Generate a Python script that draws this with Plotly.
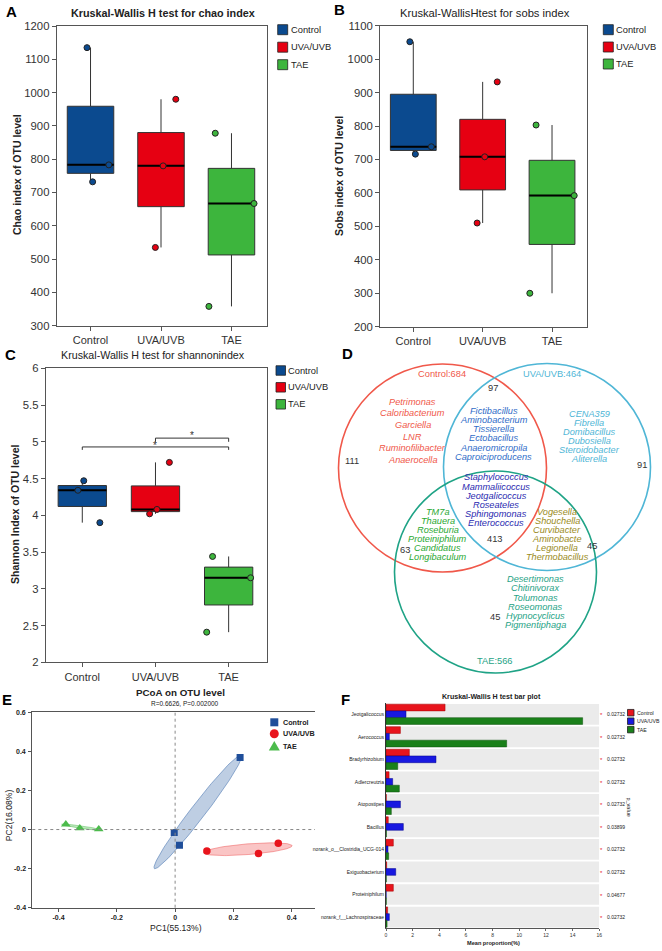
import numpy as np
import plotly.graph_objects as go

W, H = 662, 951
FONT = "Liberation Sans"

# ------------------------------------------------------------------ data
groups = ["Control", "UVA/UVB", "TAE"]
chao_values = [[1135, 783, 732], [980, 780, 535], [878, 667, 358]]
sobs_values = [[1052, 738, 716], [932, 708, 510], [803, 592, 300]]
shannon_values = [[4.47, 4.34, 3.90], [4.72, 4.08, 4.02], [3.44, 3.15, 2.41]]
chao_ticks = [300, 400, 500, 600, 700, 800, 900, 1000, 1100, 1200]
sobs_ticks = [200, 300, 400, 500, 600, 700, 800, 900, 1000, 1100]
shannon_ticks = [2, 2.5, 3, 3.5, 4, 4.5, 5, 5.5, 6]
shannon_ticktext = ["2", "2.5", "3", "3.5", "4", "4.5", "5", "5.5", "6"]

venn_sets = ["Control:684", "UVA/UVB:464", "TAE:566"]
venn_counts = ["111", "97", "91", "413", "63", "45", "45"]
venn_control_only = ["Petrimonas", "Caloribacterium", "Garciella", "LNR", "Ruminofilibacter", "Anaerocella"]
venn_control_uv = ["Fictibacillus", "Aminobacterium", "Tissierella", "Ectobacillus", "Anaeromicropila", "Caproiciproducens"]
venn_uv_only = ["CENA359", "Fibrella", "Domibacillus", "Dubosiella", "Steroidobacter", "Aliterella"]
venn_core = ["Staphylococcus", "Mammaliicoccus", "Jeotgalicoccus", "Roseateles", "Sphingomonas", "Enterococcus"]
venn_control_tae = ["TM7a", "Thauera", "Roseburia", "Proteiniphilum", "Candidatus", "Longibaculum"]
venn_uv_tae = ["Vogesella", "Shouchella", "Curvibacter", "Aminobacte", "Legionella", "Thermobacillus"]
venn_tae_only = ["Desertimonas", "Chitinivorax", "Tolumonas", "Roseomonas", "Hypnocyclicus", "Pigmentiphaga"]

pc1_control = [0.223, -0.003, 0.015]
pc2_control = [0.369, -0.015, -0.081]
pc1_uv = [0.109, 0.286, 0.354]
pc2_uv = [-0.110, -0.122, -0.070]
pc1_tae = [-0.375, -0.327, -0.262]
pc2_tae = [0.027, 0.007, 0.002]
pcoa_xticks = [-0.4, -0.2, 0, 0.2, 0.4]
pcoa_xticktext = ["-0.4", "-0.2", "0", "0.2", "0.4"]
pcoa_yticks = [-0.4, -0.2, 0, 0.2, 0.4, 0.6]
pcoa_yticktext = ["-0.4", "-0.2", "0", "0.2", "0.4", "0.6"]

genera = ["Jeotgalicoccus", "Aerococcus", "Bradyrhizobium", "Adlercreutzia", "Atopostipes",
          "Bacillus", "norank_o__Clostridia_UCG-014", "Exiguobacterium", "Proteiniphilum",
          "norank_f__Lachnospiraceae"]
bar_control = [4.43, 1.08, 1.75, 0.23, 0.02, 0.17, 0.55, 0.05, 0.55, 0.12]
bar_uv = [1.50, 0.25, 3.75, 0.50, 1.08, 1.30, 0.15, 0.73, 0.01, 0.25]
bar_tae = [14.75, 9.05, 0.88, 1.00, 0.40, 0.03, 0.20, 0.02, 0.02, 0.08]
p_values = ["0.02732", "0.02732", "0.02732", "0.02732", "0.02732",
            "0.03899", "0.02732", "0.02732", "0.04677", "0.02732"]
bar_xticks = [0, 2, 4, 6, 8, 10, 12, 14, 16]

# ------------------------------------------------------------------ style
box_colors = ["#0b4a8f", "#e60012", "#3db53d"]
pcoa_colors = ["#1f4e9a", "#e8141c", "#4cbb4c"]
bar_colors = ["#e8141c", "#1818e0", "#1a801a"]
bar_edges = ["#a00000", "#00008a", "#0d500d"]
jit_ab = [[-0.05, 0.26, 0.03], [0.21, 0.03, -0.08], [-0.23, 0.32, -0.32]]
jit_c = [[0.02, -0.06, 0.24], [0.19, 0.02, -0.08], [-0.22, 0.30, -0.30]]


def X(p):
    return p / W


def Y(p):
    return 1 - p / H


def dx(a, b):
    return [X(a), X(b)]


def dy(top, bottom):
    return [Y(bottom), Y(top)]


def fnt(size, bold=False, color="#222", italic=False):
    d = dict(family=FONT, size=size, color=color)
    if bold:
        d["weight"] = "bold"
    if italic:
        d["style"] = "italic"
    return d


fig = go.Figure()
shapes, annos = [], []
layout_axes = {}


def ann(x, y, text, size, bold=False, color="#222", xanchor="center", italic=False,
        angle=0, xref="paper", yref="paper", yshift=0):
    annos.append(dict(x=x, y=y, text=text, showarrow=False, xref=xref, yref=yref,
                      xanchor=xanchor, yanchor="middle", textangle=angle, yshift=yshift,
                      font=fnt(size, bold, color, italic)))


def ref(k):
    return ("x", "y") if k == 1 else (f"x{k}", f"y{k}")


def axkey(k):
    return ("xaxis", "yaxis") if k == 1 else (f"xaxis{k}", f"yaxis{k}")


# ------------------------------------------------------------------ box panels
def box_panel(k, values, jit, xdom, ydom, xrange, yrange, yticks, yticktext):
    xr, yr = ref(k)
    for i, vals in enumerate(values):
        fig.add_trace(go.Box(x=[i] * len(vals), y=vals, width=0.66, fillcolor=box_colors[i],
                             line=dict(color="#333", width=1), boxpoints=False,
                             quartilemethod="inclusive", whiskerwidth=0, xaxis=xr, yaxis=yr,
                             showlegend=False, hoverinfo="skip"))
        med = float(np.median(vals))
        fig.add_trace(go.Scatter(x=[i - 0.33, i + 0.33], y=[med, med], mode="lines",
                                 line=dict(color="black", width=2), xaxis=xr, yaxis=yr,
                                 showlegend=False, hoverinfo="skip"))
        fig.add_trace(go.Scatter(x=[i + j for j in jit[i]], y=vals, mode="markers",
                                 marker=dict(size=6, color=box_colors[i],
                                             line=dict(color="#222", width=1)),
                                 xaxis=xr, yaxis=yr, showlegend=False, hoverinfo="skip"))
    xk, yk = axkey(k)
    common = dict(showline=True, mirror=True, linecolor="#555", linewidth=1, ticks="outside",
                  ticklen=4, tickcolor="#555", showgrid=False, zeroline=False)
    layout_axes[xk] = dict(domain=xdom, range=xrange, tickvals=[0, 1, 2], ticktext=groups,
                           tickfont=fnt(11, color="#333"), anchor=yr, **common)
    layout_axes[yk] = dict(domain=ydom, range=yrange, tickvals=yticks, ticktext=yticktext,
                           tickfont=fnt(11.3, color="#333"), anchor=xr, **common)


def square_legend(x_left, y_centers, size, fsize, colors, labels, gap=2):
    for c, lab, yc in zip(colors, labels, y_centers):
        shapes.append(dict(type="rect", xref="paper", yref="paper", x0=X(x_left),
                           x1=X(x_left + size), y0=Y(yc + size / 2), y1=Y(yc - size / 2),
                           fillcolor=c, line=dict(color="#222", width=0.8)))
        ann(X(x_left + size + gap), Y(yc), lab, fsize, xanchor="left")


# A
box_panel(1, chao_values, jit_ab, dx(56.7, 266.7), dy(26, 325.7), [-0.48, 2.5], [300, 1200],
          chao_ticks, [str(t) for t in chao_ticks])
ann(X(162.5), Y(13.3), "Kruskal-Wallis H test for chao index", 10.8, bold=True)
ann(X(17), Y(175), "Chao index of OTU level", 10.5, bold=True, angle=-90)
square_legend(277.7, [29.7, 47.2, 64.7], 10, 9.3, box_colors, groups, gap=1)
ann(X(11), Y(11), "A", 15, bold=True, color="black")

# B
box_panel(2, sobs_values, jit_ab, dx(380, 586.7), dy(25.7, 326.7), [-0.48, 2.5], [200, 1100],
          sobs_ticks, [str(t) for t in sobs_ticks])
ann(X(484.5), Y(13.3), "Kruskal-WallisHtest for sobs index", 11.2)
ann(X(339), Y(176), "Sobs index of OTU level", 10.5, bold=True, angle=-90)
square_legend(603.3, [29.7, 47, 64], 10, 9.3, box_colors, groups, gap=1)
ann(X(339), Y(9), "B", 15, bold=True, color="black")

# C
box_panel(3, shannon_values, jit_c, dx(45.7, 266.7), dy(368.3, 662.3), [-0.5, 2.52], [2, 6],
          shannon_ticks, shannon_ticktext)
ann(X(153.3), Y(355), "Kruskal-Wallis H test for shannonindex", 10.7)
ann(X(15), Y(514), "Shannon Index of OTU level", 10.5, bold=True, angle=-90)
square_legend(276, [370.5, 387.3, 404.3], 9.5, 9.3, box_colors, groups, gap=0.5)
ann(X(10), Y(354), "C", 15, bold=True, color="black")
# significance brackets
for xs, ys in [([0, 0, 2, 2], [4.89, 4.93, 4.93, 4.89]), ([1, 1, 2, 2], [5.0, 5.05, 5.05, 5.0])]:
    fig.add_trace(go.Scatter(x=xs, y=ys, mode="lines", line=dict(color="#333", width=1),
                             xaxis="x3", yaxis="y3", showlegend=False, hoverinfo="skip"))
for sx, sy in [(1, 4.99), (1.5, 5.12)]:
    ann(sx, sy, "*", 10, color="#333", xref="x3", yref="y3", yshift=-3)

# ------------------------------------------------------------------ D: Venn
layout_axes["xaxis4"] = dict(domain=dx(330, 662), range=[330, 662], visible=False, anchor="y4")
layout_axes["yaxis4"] = dict(domain=dy(340, 680), range=[680, 340], visible=False, anchor="x4")
venn_circle_colors = ["#f0584a", "#4fb6d6", "#1fa386"]
venn_circles = [(442.5, 468, 104), (547, 467, 103.5), (495.5, 572, 101)]
for (cx, cy, r), c in zip(venn_circles, venn_circle_colors):
    shapes.append(dict(type="circle", xref="x4", yref="y4", x0=cx - r, x1=cx + r,
                       y0=cy - r, y1=cy + r, line=dict(color=c, width=1.6)))
for lab, (x, y), c in zip(venn_sets, [(442, 374), (552, 374), (495, 661)], venn_circle_colors):
    ann(x, y, lab, 9.3, color=c, xref="x4", yref="y4")
count_pos = [(352, 461), (493, 388), (642, 465), (495, 539), (405, 550), (592, 546), (495, 617)]
for lab, (x, y) in zip(venn_counts, count_pos):
    ann(x, y, lab, 9.3, color="#333", xref="x4", yref="y4")
venn_lists = [
    (venn_control_only, 412.8, 401.7, 11.67, "#f0584a"),
    (venn_control_uv, 493.8, 411.0, 9.13, "#2f6cc8"),
    (venn_uv_only, 589.3, 414.0, 9.07, "#4fb6d6"),
    (venn_core, 496.0, 477.3, 9.2, "#2a2ab0"),
    (venn_control_tae, 437.5, 511.7, 9.13, "#2aa832"),
    (venn_uv_tae, 557.0, 512.0, 9.0, "#9a8b1c"),
    (venn_tae_only, 535.0, 579.3, 9.13, "#1fa386"),
]
for names, cx, y0, step, c in venn_lists:
    for j, name in enumerate(names):
        ann(cx, y0 + j * step, name, 9.2, color=c, italic=True, xref="x4", yref="y4")
ann(X(347), Y(353), "D", 15, bold=True, color="black")

# ------------------------------------------------------------------ E: PCoA
def conf_ellipse(xs, ys, k=1.2, n=120):
    pts = np.vstack([xs, ys])
    mu = pts.mean(axis=1)
    vals, vecs = np.linalg.eigh(np.cov(pts))
    t = np.linspace(0, 2 * np.pi, n)
    circ = np.vstack([np.cos(t), np.sin(t)])
    ell = vecs @ (k * np.sqrt(np.maximum(vals, 0))[:, None] * circ) + mu[:, None]
    return ell[0], ell[1]


ell_fill = ["rgba(70,115,175,0.35)", "rgba(240,90,90,0.35)", "rgba(80,190,80,0.35)"]
ell_line = ["rgba(70,115,175,0.55)", "rgba(240,90,90,0.5)", "rgba(80,190,80,0.5)"]
pcoa_sets = [(pc1_control, pc2_control), (pc1_uv, pc2_uv), (pc1_tae, pc2_tae)]
for (px, py), fc, lc in zip(pcoa_sets, ell_fill, ell_line):
    ex, ey = conf_ellipse(px, py)
    fig.add_trace(go.Scatter(x=ex, y=ey, mode="lines", fill="toself", fillcolor=fc,
                             line=dict(color=lc, width=1), xaxis="x5", yaxis="y5",
                             showlegend=False, hoverinfo="skip"))
symbols = ["square", "circle", "triangle-up"]
msizes = [7, 7.5, 8.5]
for (px, py), c, s, ms in zip(pcoa_sets, pcoa_colors, symbols, msizes):
    fig.add_trace(go.Scatter(x=px, y=py, mode="markers",
                             marker=dict(symbol=s, size=ms, color=c, line=dict(width=0)),
                             xaxis="x5", yaxis="y5", showlegend=False, hoverinfo="skip"))
shapes.append(dict(type="line", xref="x5", yref="y5 domain", x0=0, x1=0, y0=0, y1=1,
                   line=dict(color="#888", width=1, dash="dot")))
shapes.append(dict(type="line", xref="x5 domain", yref="y5", x0=0, x1=1, y0=0, y1=0,
                   line=dict(color="#888", width=1, dash="dot")))
ecommon = dict(showline=True, linecolor="#555", linewidth=1, ticks="outside", ticklen=3,
               tickcolor="#555", showgrid=False, zeroline=False, tickfont=fnt(7, True, "#222"))
e_ydom = dy(712.3, 907.7)
e_yrange = [-0.4, 0.6]
layout_axes["xaxis5"] = dict(domain=dx(32.3, 315), range=[-0.49, 0.48], tickvals=pcoa_xticks,
                             ticktext=pcoa_xticktext, mirror=True, anchor="y5", **ecommon)
layout_axes["yaxis5"] = dict(domain=e_ydom, range=e_yrange, tickvals=pcoa_yticks,
                             showticklabels=False, anchor="x5", **ecommon)
# y tick labels of E, placed through the axis' own linear scale (domain/range)
for v, lab in zip(pcoa_yticks, pcoa_yticktext):
    frac = (v - e_yrange[0]) / (e_yrange[1] - e_yrange[0])
    yp = e_ydom[0] + frac * (e_ydom[1] - e_ydom[0])
    ann(X(28), yp, lab, 7, bold=True, xanchor="right")
ann(X(180.8), Y(692.7), "PCoA on OTU level", 9.8, bold=True)
ann(X(185), Y(703.3), "R=0.6626, P=0.002000", 6.5)
ann(X(175.8), Y(928.3), "PC1(55.13%)", 8.6)
ann(X(9.3), Y(815), "PC2(16.08%)", 8.6, angle=-90)
ann(X(7), Y(699), "E", 15, bold=True, color="black")
# legend keys drawn as paper shapes
leg_x, leg_y = 274.3, [722.3, 733.8, 746.0]
s = 4
shapes.append(dict(type="rect", xref="paper", yref="paper", x0=X(leg_x - s), x1=X(leg_x + s),
                   y0=Y(leg_y[0] + s), y1=Y(leg_y[0] - s), fillcolor=pcoa_colors[0],
                   line=dict(width=0)))
r = 4.5
shapes.append(dict(type="circle", xref="paper", yref="paper", x0=X(leg_x - r), x1=X(leg_x + r),
                   y0=Y(leg_y[1] + r), y1=Y(leg_y[1] - r), fillcolor=pcoa_colors[1],
                   line=dict(width=0)))
t = 5.5
tri = (f"M {X(leg_x - t)},{Y(leg_y[2] + 4.5)} L {X(leg_x + t)},{Y(leg_y[2] + 4.5)} "
       f"L {X(leg_x)},{Y(leg_y[2] - 5)} Z")
shapes.append(dict(type="path", xref="paper", yref="paper", path=tri,
                   fillcolor=pcoa_colors[2], line=dict(width=0)))
for lab, yy in zip(groups, leg_y):
    ann(X(280.5), Y(yy), lab, 7.2, bold=True, xanchor="left")

# ------------------------------------------------------------------ F: bar plot
yidx = list(range(len(genera)))
for i in yidx:
    shapes.append(dict(type="rect", xref="x6", yref="y6", x0=0, x1=16, y0=i - 0.46,
                       y1=i + 0.46, fillcolor="#ebebeb", line=dict(width=0), layer="below"))
for vals, c, e, name in zip([bar_control, bar_uv, bar_tae], bar_colors, bar_edges, groups):
    fig.add_trace(go.Bar(y=yidx, x=vals, orientation="h", name=name,
                         marker=dict(color=c, line=dict(color=e, width=0.5)),
                         xaxis="x6", yaxis="y6", showlegend=False, hoverinfo="skip"))
layout_axes["xaxis6"] = dict(domain=dx(386, 599.3), range=[0, 16], tickvals=bar_xticks,
                             ticks="outside", ticklen=2, tickcolor="#666", showline=True,
                             linecolor="#555", linewidth=1, showgrid=False, zeroline=False,
                             tickfont=fnt(5, color="#333"), anchor="y6")
layout_axes["yaxis6"] = dict(domain=dy(703, 928.3), range=[9.5, -0.5], tickvals=yidx,
                             ticktext=genera, showline=True, linecolor="#333", linewidth=1,
                             ticks="", showgrid=False, zeroline=False,
                             tickfont=fnt(5, color="#222"), anchor="x6")
for i, p in zip(yidx, p_values):
    ann(X(601.5), i, "*", 6, color="#e8141c", yref="y6", yshift=-1)
    ann(X(604.5), i, p, 5, color="#222", xanchor="left", yref="y6")
ann(X(628.5), Y(807), "p_value", 5.5, angle=90)
square_legend(627.5, [712.7, 721.2, 729.6], 6.5, 5.2, bar_colors, groups, gap=1)
ann(X(491), Y(697.3), "Kruskal-Wallis H test bar plot", 7.1, bold=True)
ann(X(493.3), Y(943.3), "Mean proportion(%)", 5.6, bold=True)
ann(X(345), Y(699.5), "F", 15, bold=True, color="black")

fig.update_layout(
    width=W, height=H, margin=dict(l=0, r=0, t=0, b=0, autoexpand=False),
    paper_bgcolor="white", plot_bgcolor="white", showlegend=False,
    barmode="group", bargap=0.1, bargroupgap=0,
    font=dict(family=FONT, color="#222"),
    shapes=shapes, annotations=annos, **layout_axes,
)
fig.write_html("out.html")
